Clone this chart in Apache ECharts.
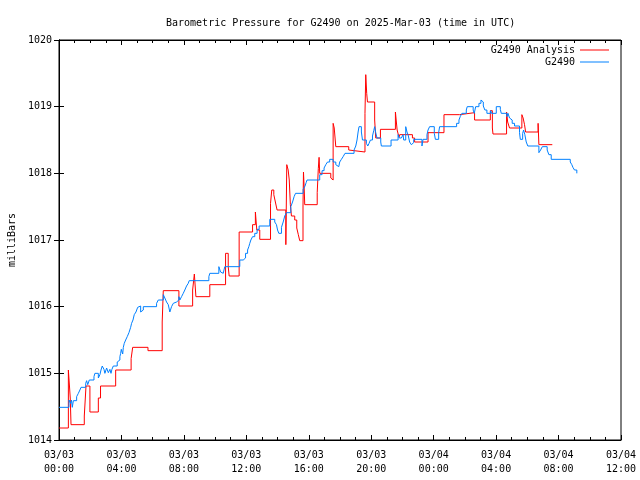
<!DOCTYPE html>
<html>
<head>
<meta charset="utf-8">
<script src="https://cdn.jsdelivr.net/npm/echarts@6/dist/echarts.min.js"></script>
<style>html,body{margin:0;padding:0;background:#fff}#c{width:640px;height:480px}</style>
</head>
<body>
<div id="c"></div>
<script>
// Time in hours since 2025-03-03 00:00 UTC; pressure in millibars
const redTime = [
  0.00,0.60,0.67,0.72,0.77,1.62,1.73,1.98,2.52,2.66,
  3.63,4.62,4.72,5.70,6.61,6.68,7.68,8.56,8.67,8.77,
  9.66,10.67,10.84,10.90,11.54,12.40,12.58,12.67,12.86,13.55,
  13.63,13.76,13.86,13.97,14.53,14.59,14.68,14.75,14.82,14.89,
  15.10,15.23,15.33,15.42,15.63,15.66,15.71,15.74,16.54,16.61,
  16.66,16.70,17.41,17.47,17.56,17.63,17.73,18.56,18.67,19.60,
  19.65,19.71,19.76,20.22,20.29,20.59,21.55,21.66,21.78,21.82,
  22.64,22.78,23.64,24.66,25.66,26.62,27.63,27.76,27.80,28.67,
  28.74,28.86,29.65,29.73,29.82,29.89,30.69,30.74,31.60
];
const redValue = [
  1014.18,1015.05,1014.81,1014.63,1014.23,1014.36,1014.81,1014.42,1014.63,1014.81,
  1015.05,1015.22,1015.39,1015.34,1015.77,1016.24,1016.01,1016.25,1016.49,1016.15,
  1016.33,1016.80,1016.60,1016.46,1017.12,1017.23,1017.42,1017.15,1017.01,1017.55,
  1017.75,1017.68,1017.57,1017.45,1016.93,1018.13,1018.05,1017.90,1017.53,1017.36,
  1017.30,1017.18,1017.08,1016.99,1017.51,1018.02,1017.75,1017.53,1017.71,1018.07,
  1018.24,1018.00,1017.93,1017.90,1018.75,1018.68,1018.40,1018.35,1018.32,1018.90,
  1019.48,1019.20,1019.07,1018.80,1018.53,1018.66,1018.92,1018.65,1018.54,1018.58,
  1018.53,1018.47,1018.61,1018.88,1018.91,1018.80,1018.94,1018.68,1018.59,1018.92,
  1018.77,1018.68,1018.88,1018.83,1018.73,1018.62,1018.75,1018.43,1018.43
];
const blueTime = [
  0.00,0.64,0.74,0.80,0.85,0.92,1.13,1.24,1.34,1.41,
  1.71,1.77,1.84,1.94,2.24,2.30,2.52,2.62,2.69,2.77,
  2.88,2.94,3.05,3.16,3.26,3.33,3.39,3.48,3.73,3.84,
  3.90,3.95,3.99,4.08,4.12,4.18,4.27,4.37,4.48,4.59,
  4.65,4.74,4.82,4.93,5.04,5.12,5.23,5.29,5.40,6.25,
  6.36,6.68,6.78,6.89,7.00,7.10,7.21,7.32,7.42,7.53,
  7.68,7.74,7.85,7.96,8.06,8.17,8.28,8.34,9.60,9.66,
  10.24,10.35,10.45,10.52,10.62,11.58,11.80,11.95,12.08,12.16,
  12.22,12.29,12.40,12.54,12.69,12.82,13.50,13.82,13.93,14.00,
  14.08,14.25,14.36,14.46,14.57,14.85,14.96,15.06,15.15,15.64,
  15.76,15.83,15.89,16.70,16.85,16.98,17.09,17.20,17.34,17.56,
  17.73,17.84,17.92,17.98,18.09,18.20,18.32,18.90,19.01,19.09,
  19.16,19.22,19.37,19.44,19.69,19.78,19.86,19.95,20.08,20.16,
  20.22,20.29,20.37,20.61,20.65,21.27,21.72,21.80,21.93,22.04,
  22.08,22.21,22.29,22.36,22.46,22.57,22.64,22.72,23.25,23.32,
  23.57,23.64,23.74,24.04,24.11,24.32,24.38,25.47,25.62,25.70,
  25.81,26.09,26.15,26.53,26.60,26.69,26.90,27.03,27.09,27.18,
  27.28,27.41,27.65,27.71,28.01,28.27,28.33,28.69,28.76,28.86,
  28.97,29.03,29.18,29.50,29.55,29.70,29.76,29.84,29.93,30.03,
  30.74,30.85,30.96,31.27,31.38,31.53,32.75,32.85,32.92,33.02,
  33.17
];
const blueValue = [
  1014.49,1014.60,1014.55,1014.60,1014.49,1014.59,1014.65,1014.70,1014.75,1014.79,
  1014.85,1014.89,1014.83,1014.90,1014.95,1015.00,1014.93,1014.98,1015.05,1015.11,
  1015.06,1015.00,1015.08,1015.01,1015.06,1015.00,1015.06,1015.11,1015.17,1015.20,
  1015.25,1015.30,1015.36,1015.29,1015.39,1015.45,1015.50,1015.55,1015.61,1015.69,
  1015.75,1015.80,1015.88,1015.92,1015.99,1016.01,1015.92,1015.95,1016.00,1016.05,
  1016.10,1016.18,1016.13,1016.07,1016.03,1015.92,1016.00,1016.05,1016.07,1016.10,
  1016.15,1016.10,1016.15,1016.20,1016.25,1016.31,1016.35,1016.39,1016.45,1016.50,
  1016.60,1016.52,1016.50,1016.52,1016.60,1016.70,1016.73,1016.80,1016.85,1016.90,
  1016.95,1017.00,1017.05,1017.10,1017.16,1017.21,1017.31,1017.27,1017.23,1017.15,
  1017.10,1017.19,1017.27,1017.36,1017.41,1017.50,1017.57,1017.65,1017.70,1017.76,
  1017.81,1017.86,1017.90,1017.98,1018.04,1018.08,1018.13,1018.17,1018.21,1018.17,
  1018.13,1018.10,1018.13,1018.17,1018.21,1018.25,1018.30,1018.35,1018.41,1018.50,
  1018.62,1018.70,1018.62,1018.50,1018.45,1018.41,1018.45,1018.50,1018.56,1018.64,
  1018.70,1018.61,1018.53,1018.47,1018.41,1018.50,1018.58,1018.53,1018.50,1018.58,
  1018.50,1018.70,1018.62,1018.58,1018.47,1018.43,1018.46,1018.51,1018.41,1018.51,
  1018.58,1018.65,1018.70,1018.60,1018.51,1018.61,1018.70,1018.75,1018.80,1018.85,
  1018.90,1018.95,1019.00,1018.95,1018.90,1019.00,1019.05,1019.10,1019.07,1019.01,
  1018.95,1018.90,1018.94,1018.90,1019.00,1018.96,1018.90,1018.85,1018.90,1018.83,
  1018.80,1018.75,1018.71,1018.61,1018.51,1018.60,1018.65,1018.58,1018.47,1018.41,
  1018.31,1018.35,1018.40,1018.35,1018.28,1018.21,1018.17,1018.13,1018.09,1018.05,
  1018.00
];
const xTickStep = 4; // hours
const yTicks = [1014, 1015, 1016, 1017, 1018, 1019, 1020];

function pairs(t, v) {
  const n = Math.min(t.length, v.length);
  const out = [];
  for (let i = 0; i < n; i++) out.push([t[i], v[i]]);
  return out;
}
function fmtTime(h) {
  const day = h < 24 ? '03/03' : '03/04';
  const hh = Math.round(h % 24);
  return day + '\n' + (hh < 10 ? '0' : '') + hh + ':00';
}
const FONT = 'DejaVu Sans Mono';
const chart = echarts.init(document.getElementById('c'), null, {renderer: 'canvas'});
const tickStyle = {color: '#000', width: 1};
chart.setOption({
  animation: false,
  backgroundColor: '#fff',
  title: {
    text: 'Barometric Pressure for G2490 on 2025-Mar-03 (time in UTC)',
    left: 161, top: 13,
    textStyle: {fontFamily: FONT, fontSize: 10, fontWeight: 'normal', color: '#000'}
  },
  legend: {
    orient: 'vertical', right: 26, top: 39, align: 'right',
    icon: 'rect', itemWidth: 29, itemHeight: 1, itemGap: 0,
    textStyle: {fontFamily: FONT, fontSize: 10, color: '#000', lineHeight: 12, height: 12},
    data: ['G2490 Analysis', 'G2490']
  },
  grid: {left: 59, right: 19, top: 40, bottom: 40, containLabel: false, outerBoundsMode: 'none',
         show: true, borderColor: '#000', borderWidth: 1},
  xAxis: [{
    type: 'value', min: 0, max: 36, interval: xTickStep,
    axisLine: {show: true, lineStyle: {color: '#000'}},
    axisTick: {inside: true, length: 5, lineStyle: tickStyle},
    minorTick: {show: true, splitNumber: 4, length: 3, lineStyle: tickStyle},
    splitLine: {show: false},
    axisLabel: {formatter: fmtTime, fontFamily: FONT, fontSize: 10, color: '#000', lineHeight: 14, margin: 8}
  }, {
    type: 'value', min: 0, max: 36, interval: xTickStep, position: 'top',
    axisLine: {show: true, lineStyle: {color: '#000'}},
    axisTick: {inside: true, length: 5, lineStyle: tickStyle},
    minorTick: {show: true, splitNumber: 4, length: 3, lineStyle: tickStyle},
    splitLine: {show: false}, axisLabel: {show: false}
  }],
  yAxis: [{
    type: 'value', min: yTicks[0], max: yTicks[yTicks.length - 1], interval: 1,
    name: 'milliBars', nameLocation: 'middle', nameGap: 39, nameRotate: 90,
    nameTextStyle: {fontFamily: FONT, fontSize: 10, color: '#000'},
    axisLine: {show: true, lineStyle: {color: '#000'}},
    axisTick: {inside: true, length: 5, lineStyle: tickStyle},
    splitLine: {show: false},
    axisLabel: {formatter: v => String(v), fontFamily: FONT, fontSize: 10, color: '#000', margin: 7}
  }, {
    type: 'value', min: yTicks[0], max: yTicks[yTicks.length - 1], interval: 1, position: 'right',
    axisLine: {show: true, lineStyle: {color: '#000'}},
    axisTick: {inside: true, length: 5, lineStyle: tickStyle},
    splitLine: {show: false}, axisLabel: {show: false}
  }],
  series: [{
    name: 'G2490 Analysis', type: 'line', step: 'end', symbol: 'none',
    lineStyle: {color: '#ff0000', width: 1}, itemStyle: {color: '#ff0000'},
    data: pairs(redTime, redValue)
  }, {
    name: 'G2490', type: 'line', step: 'end', symbol: 'none',
    lineStyle: {color: '#0080ff', width: 1}, itemStyle: {color: '#0080ff'},
    data: pairs(blueTime, blueValue)
  }]
});
</script>
</body>
</html>
